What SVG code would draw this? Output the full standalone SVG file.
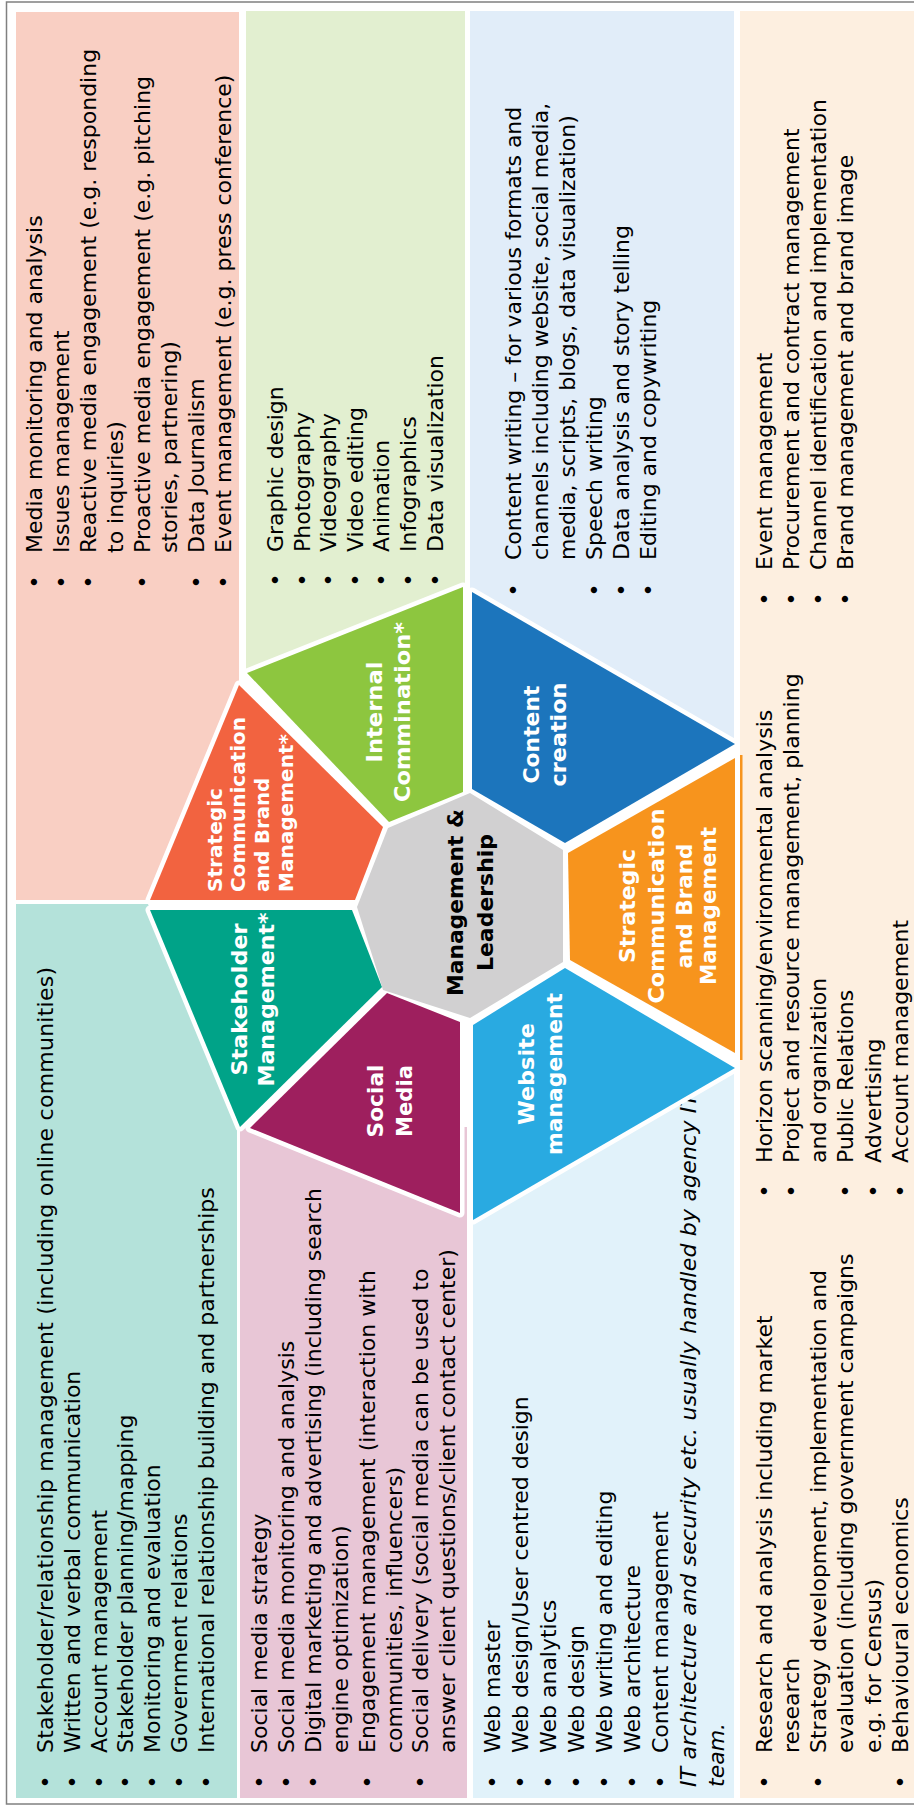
<svg xmlns="http://www.w3.org/2000/svg" width="914" height="1805" viewBox="0 0 914 1805">
<style>
.p{font-family:"DejaVu Sans",Verdana,sans-serif;font-size:22px;fill:#000}
.i{font-style:italic}
.l{font-family:"DejaVu Sans",Verdana,sans-serif;font-weight:700;fill:#fff;text-anchor:middle}
.ls{text-anchor:start}
.gap{fill:#fff;stroke:#fff;stroke-width:9;stroke-linejoin:round}
</style>
<rect width="914" height="1805" fill="#fff"/>
<rect x="6.5" y="2" width="930" height="1802" fill="none" stroke="#808080" stroke-width="1.5"/>

<g id="panel-media">
<polygon points="16,12 239,12 239,685 150,900 16,900" fill="#F9CFC3"/>
<g transform="rotate(-90)" class="p">
<text x="-588.5" y="41.5">•</text><text x="-553" y="41.5">Media monitoring and analysis</text>
<text x="-588.5" y="68.6">•</text><text x="-553" y="68.6">Issues management</text>
<text x="-588.5" y="95.7">•</text><text x="-553" y="95.7">Reactive media engagement (e.g. responding</text>
<text x="-553" y="122.8">to inquiries)</text>
<text x="-588.5" y="149.9">•</text><text x="-553" y="149.9">Proactive media engagement (e.g. pitching</text>
<text x="-553" y="177">stories, partnering)</text>
<text x="-588.5" y="204.1">•</text><text x="-553" y="204.1">Data Journalism</text>
<text x="-588.5" y="231.2">•</text><text x="-553" y="231.2">Event management (e.g. press conference)</text>
</g>
</g>

<g id="panel-internal">
<polygon points="246,11 465,11 465,587 246,673" fill="#E2EFD0"/>
<g transform="rotate(-90)" class="p">
<text x="-586.5" y="283">•</text><text x="-552" y="283">Graphic design</text>
<text x="-586.5" y="309.6">•</text><text x="-552" y="309.6">Photography</text>
<text x="-586.5" y="336.2">•</text><text x="-552" y="336.2">Videography</text>
<text x="-586.5" y="362.8">•</text><text x="-552" y="362.8">Video editing</text>
<text x="-586.5" y="389.4">•</text><text x="-552" y="389.4">Animation</text>
<text x="-586.5" y="416">•</text><text x="-552" y="416">Infographics</text>
<text x="-586.5" y="442.6">•</text><text x="-552" y="442.6">Data visualization</text>
</g>
</g>

<g id="panel-content">
<polygon points="470,11 734,11 734,744 470,592" fill="#E1EDF9"/>
<g transform="rotate(-90)" class="p">
<text x="-596.5" y="521">•</text><text x="-560" y="521">Content writing – for various formats and</text>
<text x="-560" y="548">channels including website, social media,</text>
<text x="-560" y="575">media, scripts, blogs,  data visualization)</text>
<text x="-596.5" y="602">•</text><text x="-560" y="602">Speech writing</text>
<text x="-596.5" y="629">•</text><text x="-560" y="629">Data analysis and story telling</text>
<text x="-596.5" y="656">•</text><text x="-560" y="656">Editing and copywriting</text>
</g>
</g>

<g id="panel-strategic">
<rect x="740" y="11" width="180" height="1787" fill="#FDEFE0"/>
<rect x="740" y="755" width="2.5" height="305" fill="#F7941D"/>
<g transform="rotate(-90)" class="p">
<text x="-605.5" y="771.5">•</text><text x="-570" y="771.5">Event management</text>
<text x="-605.5" y="798.8">•</text><text x="-570" y="798.8">Procurement and contract management</text>
<text x="-605.5" y="826.1">•</text><text x="-570" y="826.1">Channel identification and implementation</text>
<text x="-605.5" y="853.4">•</text><text x="-570" y="853.4">Brand management and brand image</text>

<text x="-1197.5" y="771.5">•</text><text x="-1163" y="771.5">Horizon scanning/environmental analysis</text>
<text x="-1197.5" y="798.8">•</text><text x="-1163" y="798.8">Project and resource management, planning</text>
<text x="-1163" y="826.1">and organization</text>
<text x="-1197.5" y="853.4">•</text><text x="-1163" y="853.4">Public Relations</text>
<text x="-1197.5" y="880.7">•</text><text x="-1163" y="880.7">Advertising</text>
<text x="-1197.5" y="908">•</text><text x="-1163" y="908">Account management</text>

<text x="-1788.5" y="771.5">•</text><text x="-1753" y="771.5">Research  and analysis including market</text>
<text x="-1753" y="798.8">research</text>
<text x="-1788.5" y="826.1">•</text><text x="-1753" y="826.1">Strategy development, implementation and</text>
<text x="-1753" y="853.4">evaluation (including government campaigns</text>
<text x="-1753" y="880.7">e.g. for Census)</text>
<text x="-1788.5" y="908">•</text><text x="-1753" y="908">Behavioural economics</text>
</g>
</g>

<g id="panel-stakeholder">
<polygon points="16,904 148,904 237,1120 237,1798 16,1798" fill="#B4E2DA"/>
<g transform="rotate(-90)" class="p">
<text x="-1788.5" y="53">•</text><text x="-1753" y="53" textLength="786">Stakeholder/relationship management (including online communities)</text>
<text x="-1788.5" y="79.8">•</text><text x="-1753" y="79.8">Written and verbal communication</text>
<text x="-1788.5" y="106.6">•</text><text x="-1753" y="106.6">Account management</text>
<text x="-1788.5" y="133.4">•</text><text x="-1753" y="133.4">Stakeholder planning/mapping</text>
<text x="-1788.5" y="160.2">•</text><text x="-1753" y="160.2">Monitoring and evaluation</text>
<text x="-1788.5" y="187">•</text><text x="-1753" y="187">Government relations</text>
<text x="-1788.5" y="213.8">•</text><text x="-1753" y="213.8">International relationship building and partnerships</text>
</g>
</g>

<g id="panel-social">
<rect x="240" y="1127" width="227" height="671" fill="#E8C6D6"/>
<g transform="rotate(-90)" class="p">
<text x="-1788.5" y="267">•</text><text x="-1753" y="267">Social media strategy</text>
<text x="-1788.5" y="293.9">•</text><text x="-1753" y="293.9">Social media monitoring and analysis</text>
<text x="-1788.5" y="320.8">•</text><text x="-1753" y="320.8">Digital marketing and advertising (including search</text>
<text x="-1753" y="347.7">engine optimization)</text>
<text x="-1788.5" y="374.6">•</text><text x="-1753" y="374.6">Engagement management (interaction with</text>
<text x="-1753" y="401.5">communities,  influencers)</text>
<text x="-1788.5" y="428.4">•</text><text x="-1753" y="428.4">Social delivery (social media can be used to</text>
<text x="-1753" y="455.3">answer client questions/client contact center)</text>
</g>
</g>

<g id="panel-website">
<rect x="473" y="1068" width="261" height="730" fill="#E1F2FA"/>
<g transform="rotate(-90)" class="p">
<text x="-1788.5" y="500">•</text><text x="-1753" y="500">Web master</text>
<text x="-1788.5" y="528">•</text><text x="-1753" y="528">Web design/User centred design</text>
<text x="-1788.5" y="556">•</text><text x="-1753" y="556">Web analytics</text>
<text x="-1788.5" y="584">•</text><text x="-1753" y="584">Web design</text>
<text x="-1788.5" y="612">•</text><text x="-1753" y="612">Web writing and editing</text>
<text x="-1788.5" y="640">•</text><text x="-1753" y="640">Web architecture</text>
<text x="-1788.5" y="668">•</text><text x="-1753" y="668">Content management</text>
<text class="p i" x="-1787" y="696" textLength="694">IT architecture and security etc. usually handled by agency IT</text>
<text class="p i" x="-1787" y="724">team.</text>
</g>
</g>

<g id="connectors">
<g id="wheel-gaps">
<polygon class="gap" points="239,685 383,827 355,900 150,900"/>
<polygon class="gap" points="247,673 463,587 463,792 389,822"/>
<polygon class="gap" points="472,592 735,744 565,843 472,789"/>
<polygon class="gap" points="568,853 735,758 735,1053 570,960"/>
<polygon class="gap" points="473,1025 565,968 735,1068 473,1220"/>
<polygon class="gap" points="387,993 460,1022 460,1213 250,1128"/>
<polygon class="gap" points="150,910 352,910 382,987 240,1127"/>
<polygon class="gap" points="388,828 470,793 563,850 563,962 470,1018 383,990 357,907"/>
</g>
</g>

<g id="node-strategic-star">
<polygon points="239,685 383,827 355,900 150,900" fill="#F26340"/>
<g transform="rotate(-90)" class="l ls" font-size="20">
<text x="-892" y="221.6" textLength="104" lengthAdjust="spacingAndGlyphs">Strategic</text>
<text x="-892" y="245.3" textLength="175" lengthAdjust="spacingAndGlyphs">Communication</text>
<text x="-892" y="269" textLength="114" lengthAdjust="spacingAndGlyphs">and Brand</text>
<text x="-892" y="292.7" textLength="158" lengthAdjust="spacingAndGlyphs">Management*</text>
</g>
</g>

<g id="node-internal">
<polygon points="247,673 463,587 463,792 389,822" fill="#8DC63F"/>
<g transform="rotate(-90)" class="l" font-size="22">
<text x="-712" y="381.5" textLength="101" lengthAdjust="spacingAndGlyphs">Internal</text>
<text x="-712" y="409.5" textLength="180" lengthAdjust="spacingAndGlyphs">Commination*</text>
</g>
</g>

<g id="node-content">
<polygon points="472,592 735,744 565,843 472,789" fill="#1C75BC"/>
<g transform="rotate(-90)" class="l" font-size="22">
<text x="-734.5" y="538.5" textLength="98" lengthAdjust="spacingAndGlyphs">Content</text>
<text x="-734.5" y="566" textLength="104" lengthAdjust="spacingAndGlyphs">creation</text>
</g>
</g>

<g id="node-strategic">
<polygon points="568,853 735,758 735,1053 570,960" fill="#F7941D"/>
<g transform="rotate(-90)" class="l" font-size="22">
<text x="-906" y="635" textLength="114" lengthAdjust="spacingAndGlyphs">Strategic</text>
<text x="-906" y="664" textLength="195" lengthAdjust="spacingAndGlyphs">Communication</text>
<text x="-906" y="692" textLength="125" lengthAdjust="spacingAndGlyphs">and Brand</text>
<text x="-906" y="716" textLength="158" lengthAdjust="spacingAndGlyphs">Management</text>
</g>
</g>

<g id="node-website">
<polygon points="473,1025 565,968 735,1068 473,1220" fill="#29AAE1"/>
<g transform="rotate(-90)" class="l" font-size="22">
<text x="-1074" y="534" textLength="102" lengthAdjust="spacingAndGlyphs">Website</text>
<text x="-1074" y="562" textLength="162" lengthAdjust="spacingAndGlyphs">management</text>
</g>
</g>

<g id="node-social">
<polygon points="387,993 460,1022 460,1213 250,1128" fill="#9E1F5E"/>
<g transform="rotate(-90)" class="l" font-size="21.5">
<text x="-1101" y="383" textLength="73" lengthAdjust="spacingAndGlyphs">Social</text>
<text x="-1101" y="412" textLength="72" lengthAdjust="spacingAndGlyphs">Media</text>
</g>
</g>

<g id="node-stakeholder">
<polygon points="150,910 352,910 382,987 240,1127" fill="#00A388"/>
<g transform="rotate(-90)" class="l" font-size="21">
<text x="-999.5" y="246.5" textLength="152" lengthAdjust="spacingAndGlyphs">Stakeholder</text>
<text x="-999.5" y="274" textLength="174" lengthAdjust="spacingAndGlyphs">Management*</text>
</g>
</g>

<g id="node-management">
<polygon points="388,828 470,793 563,850 563,962 470,1018 383,990 357,907" fill="#D1D0D1"/>
<g transform="rotate(-90)" class="l" font-size="22" style="fill:#000">
<text x="-902.5" y="463" textLength="187" lengthAdjust="spacingAndGlyphs">Management &amp;</text>
<text x="-902.5" y="493" textLength="137" lengthAdjust="spacingAndGlyphs">Leadership</text>
</g>
</g>
</svg>
